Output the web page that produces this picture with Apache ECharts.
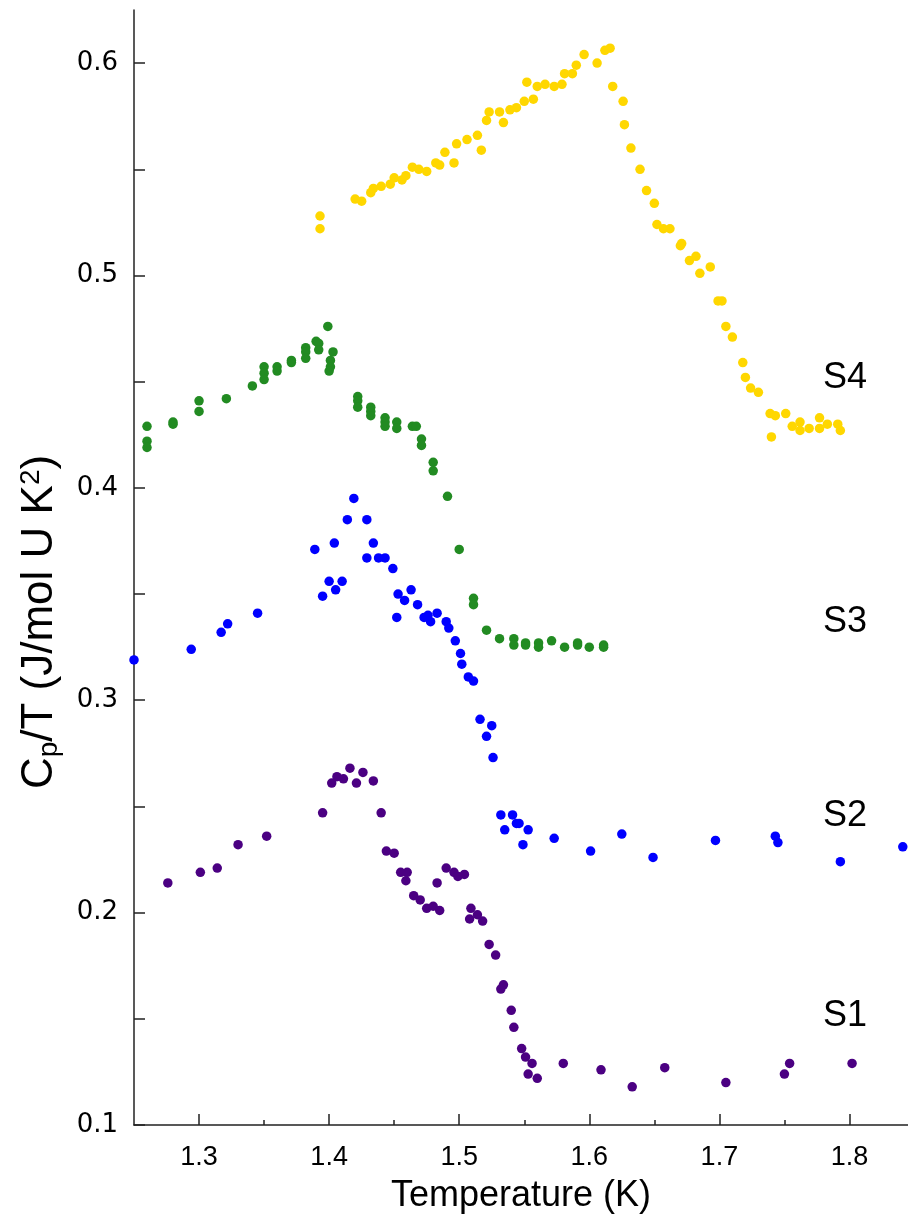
<!DOCTYPE html>
<html>
<head>
<meta charset="utf-8">
<script src="https://cdn.jsdelivr.net/npm/echarts@6/dist/echarts.min.js"></script>
<style>
  html, body { margin: 0; padding: 0; background: #fff; }
  #chart { width: 908px; height: 1219px; }
</style>
</head>
<body>
<div id="chart"></div>
<script>
// [temperature (K), Cp/T]
const s4_points = [[1.393,0.528],[1.393,0.522],[1.420,0.536],[1.425,0.535],[1.432,0.539],[1.434,0.541],[1.440,0.542],[1.447,0.543],[1.450,0.546],[1.456,0.545],[1.459,0.547],[1.464,0.551],[1.469,0.550],[1.475,0.549],[1.482,0.553],[1.485,0.552],[1.489,0.558],[1.496,0.553],[1.498,0.562],[1.506,0.564],[1.514,0.566],[1.517,0.559],[1.521,0.573],[1.523,0.577],[1.531,0.577],[1.534,0.572],[1.539,0.578],[1.544,0.579],[1.550,0.582],[1.552,0.591],[1.557,0.583],[1.560,0.589],[1.566,0.590],[1.573,0.589],[1.579,0.590],[1.581,0.595],[1.587,0.595],[1.590,0.599],[1.596,0.604],[1.606,0.600],[1.612,0.606],[1.616,0.607],[1.618,0.589],[1.626,0.582],[1.627,0.571],[1.632,0.560],[1.639,0.550],[1.644,0.540],[1.650,0.534],[1.652,0.524],[1.657,0.522],[1.662,0.522],[1.670,0.514],[1.671,0.515],[1.677,0.507],[1.682,0.509],[1.685,0.501],[1.693,0.504],[1.699,0.488],[1.702,0.488],[1.705,0.476],[1.710,0.471],[1.718,0.459],[1.720,0.452],[1.724,0.447],[1.730,0.445],[1.739,0.435],[1.743,0.434],[1.740,0.424],[1.751,0.435],[1.756,0.429],[1.762,0.431],[1.762,0.427],[1.769,0.428],[1.777,0.433],[1.777,0.428],[1.783,0.430],[1.791,0.430],[1.793,0.427]];
const s3_points = [[1.260,0.429],[1.260,0.422],[1.260,0.419],[1.280,0.431],[1.280,0.430],[1.300,0.441],[1.300,0.436],[1.321,0.442],[1.341,0.448],[1.350,0.457],[1.350,0.454],[1.350,0.451],[1.360,0.457],[1.360,0.455],[1.371,0.460],[1.371,0.459],[1.382,0.466],[1.382,0.464],[1.382,0.461],[1.390,0.469],[1.392,0.468],[1.392,0.465],[1.399,0.476],[1.403,0.464],[1.401,0.460],[1.401,0.457],[1.400,0.455],[1.422,0.443],[1.422,0.441],[1.422,0.438],[1.432,0.438],[1.432,0.436],[1.432,0.434],[1.443,0.433],[1.443,0.431],[1.443,0.429],[1.452,0.431],[1.452,0.428],[1.464,0.429],[1.467,0.429],[1.471,0.423],[1.471,0.420],[1.480,0.412],[1.480,0.408],[1.491,0.396],[1.500,0.371],[1.511,0.348],[1.511,0.345],[1.521,0.333],[1.531,0.329],[1.542,0.329],[1.542,0.326],[1.551,0.327],[1.551,0.326],[1.561,0.327],[1.561,0.325],[1.571,0.328],[1.581,0.325],[1.591,0.327],[1.591,0.326],[1.600,0.325],[1.611,0.326],[1.611,0.325]];
const s2_points = [[1.250,0.319],[1.294,0.324],[1.317,0.332],[1.322,0.336],[1.345,0.341],[1.389,0.371],[1.395,0.349],[1.400,0.356],[1.404,0.374],[1.405,0.352],[1.410,0.356],[1.414,0.385],[1.419,0.395],[1.429,0.385],[1.429,0.367],[1.434,0.374],[1.438,0.367],[1.443,0.367],[1.449,0.362],[1.452,0.339],[1.453,0.350],[1.458,0.347],[1.463,0.352],[1.468,0.345],[1.473,0.339],[1.476,0.340],[1.478,0.337],[1.483,0.341],[1.490,0.337],[1.492,0.334],[1.497,0.328],[1.501,0.322],[1.502,0.317],[1.507,0.311],[1.511,0.309],[1.516,0.291],[1.521,0.283],[1.525,0.288],[1.526,0.273],[1.532,0.246],[1.535,0.239],[1.541,0.246],[1.544,0.242],[1.546,0.242],[1.549,0.232],[1.553,0.239],[1.573,0.235],[1.601,0.229],[1.625,0.237],[1.649,0.226],[1.697,0.234],[1.743,0.236],[1.745,0.233],[1.793,0.224],[1.841,0.231]];
const s1_points = [[1.276,0.214],[1.301,0.219],[1.314,0.221],[1.330,0.232],[1.352,0.236],[1.395,0.247],[1.402,0.261],[1.406,0.264],[1.411,0.263],[1.416,0.268],[1.421,0.261],[1.426,0.266],[1.434,0.262],[1.440,0.247],[1.444,0.229],[1.450,0.228],[1.455,0.219],[1.460,0.219],[1.459,0.215],[1.465,0.208],[1.470,0.206],[1.475,0.202],[1.480,0.203],[1.485,0.201],[1.483,0.214],[1.490,0.221],[1.496,0.219],[1.499,0.217],[1.504,0.218],[1.509,0.202],[1.508,0.197],[1.514,0.199],[1.518,0.196],[1.523,0.185],[1.528,0.180],[1.534,0.166],[1.532,0.164],[1.540,0.154],[1.542,0.146],[1.548,0.136],[1.551,0.132],[1.556,0.129],[1.553,0.124],[1.560,0.122],[1.580,0.129],[1.609,0.126],[1.633,0.118],[1.658,0.127],[1.705,0.120],[1.750,0.124],[1.754,0.129],[1.802,0.129]];

const series_names = ["S4", "S3", "S2", "S1"];
const series_colors = ["#FFD700", "#228B22", "#0000FF", "#4B0082"];
const x_major = [1.3, 1.4, 1.5, 1.6, 1.7, 1.8];
const x_minor = [1.35, 1.45, 1.55, 1.65, 1.75];

const axis_color = "#222";
const tick_font = "Liberation Sans";

const chart = echarts.init(document.getElementById("chart"), null, { renderer: "canvas" });

function scatter(name, data, color) {
  return {
    name: name, type: "scatter", data: data, symbolSize: 9.5,
    itemStyle: { color: color, opacity: 1 }, silent: true, clip: false
  };
}

function seriesLabel(text, top) {
  return {
    type: "text", left: 823, top: top,
    style: { text: text, font: "36px 'Liberation Sans'", fill: "#000" }
  };
}

chart.setOption({
  animation: false,
  backgroundColor: "#fff",
  grid: { left: 134, right: 0, top: 10, bottom: 93 },
  xAxis: [
    {
      type: "value", min: 1.25, max: 1.845,
      axisLine: { lineStyle: { color: axis_color, width: 1.5 } },
      axisTick: { inside: true, length: 11, customValues: x_major, lineStyle: { color: axis_color, width: 1.5 } },
      axisLabel: { customValues: x_major, margin: 19, color: "#000", fontSize: 27, fontFamily: tick_font,
        formatter: (v) => v.toFixed(1) },
      splitLine: { show: false },
      name: "Temperature (K)", nameLocation: "middle", nameGap: 53,
      nameTextStyle: { fontSize: 36, fontFamily: tick_font, color: "#000" }
    },
    {
      type: "value", min: 1.25, max: 1.845, position: "bottom",
      axisLine: { show: false },
      axisTick: { inside: true, length: 5, customValues: x_minor, lineStyle: { color: axis_color, width: 1.5 } },
      axisLabel: { show: false },
      splitLine: { show: false }
    }
  ],
  yAxis: {
    type: "value", min: 0.1, max: 0.625, interval: 0.05,
    axisLine: { show: true, lineStyle: { color: axis_color, width: 1.5 } },
    axisTick: { show: true, inside: true, length: 11, lineStyle: { color: axis_color, width: 1.5 } },
    axisLabel: {
      margin: 16, color: "#000", fontSize: 26, fontFamily: "DejaVu Sans",
      showMaxLabel: false,
      formatter: (v) => Math.abs(v * 10 - Math.round(v * 10)) < 1e-6 ? v.toFixed(1) : ""
    },
    splitLine: { show: false }
  },
  series: [
    scatter(series_names[0], s4_points, series_colors[0]),
    scatter(series_names[1], s3_points, series_colors[1]),
    scatter(series_names[2], s2_points, series_colors[2]),
    scatter(series_names[3], s1_points, series_colors[3])
  ],
  graphic: [
    seriesLabel("S4", 360),
    seriesLabel("S3", 604),
    seriesLabel("S2", 798),
    seriesLabel("S1", 998),
    {
      type: "text", x: 40, y: 622, rotation: Math.PI / 2,
      style: {
        text: "C{sub|p}/T (J/mol U K{sup|2})",
        font: "44px 'Liberation Sans'", fill: "#000",
        align: "center", verticalAlign: "middle",
        rich: {
          sub: { fontSize: 28, fontFamily: "Liberation Sans", verticalAlign: "bottom", padding: [18, 0, 0, 0] },
          sup: { fontSize: 28, fontFamily: "Liberation Sans", verticalAlign: "top", padding: [0, 0, 18, 0] }
        }
      }
    }
  ]
});
</script>
</body>
</html>
